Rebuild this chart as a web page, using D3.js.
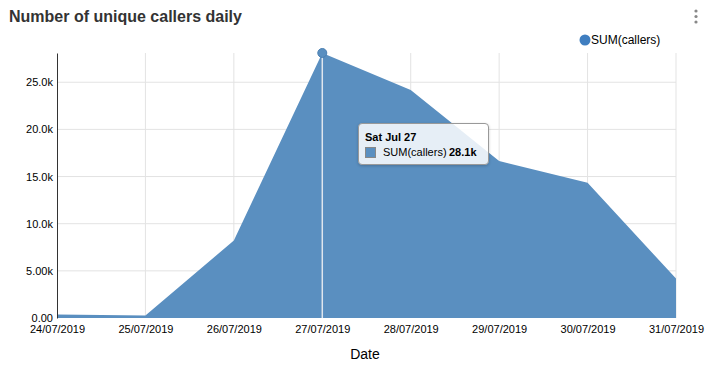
<!DOCTYPE html>
<html>
<head>
<meta charset="utf-8">
<script src="https://cdn.jsdelivr.net/npm/d3@7"></script>
<style>
body { margin: 0; background: #fff; font-family: "Liberation Sans", Arial, sans-serif; }
#chart { position: relative; width: 713px; height: 374px; overflow: hidden; }
svg text { font-family: "Liberation Sans", Arial, sans-serif; }
.tick text { font-size: 11px; fill: #000; }
.tip { position: absolute; left: 358px; top: 123px; width: 131px; height: 42px;
  background: rgba(255,255,255,0.85); border: 1px solid #999; border-radius: 4px;
  box-shadow: 0 1px 3px rgba(0,0,0,0.2);
  font-size: 11px; color: #000; box-sizing: border-box; }
.tip .d { position: absolute; left: 6px; top: 7px; font-weight: bold; }
.tip .sw { position: absolute; left: 6px; top: 23px; width: 11px; height: 11px; border: 1px solid #888; box-sizing: border-box; }
.tip .n { position: absolute; left: 24px; top: 22px; }
.tip .v { position: absolute; left: 90px; top: 22px; font-weight: bold; }
</style>
</head>
<body>
<div id="chart"></div>
<script>
// data
var dates = ["24/07/2019", "25/07/2019", "26/07/2019", "27/07/2019", "28/07/2019", "29/07/2019", "30/07/2019", "31/07/2019"];
var callers = [360, 255, 8220, 28100, 24180, 16640, 14340, 4180];
var yTicks = [0, 5000, 10000, 15000, 20000, 25000];
var hoverIndex = 3;

var width = 713, height = 374;
var margin = {top: 53, right: 37, bottom: 56, left: 57};
var color = "#5a8fc0";

var parse = d3.timeParse("%d/%m/%Y");
var data = dates.map(function(d, i) { return {date: parse(d), value: callers[i]}; });

var svg = d3.select("#chart").append("svg")
  .attr("width", width).attr("height", height);

var x = d3.scaleTime()
  .domain(d3.extent(data, function(d) { return d.date; }))
  .range([margin.left, width - margin.right]);
var y = d3.scaleLinear()
  .domain([0, d3.max(callers)])
  .range([height - margin.bottom, margin.top]);

// grid
svg.append("g")
  .selectAll("line.h").data(yTicks.slice(1)).enter().append("line")
  .attr("x1", margin.left).attr("x2", width - margin.right)
  .attr("y1", function(d) { return y(d); }).attr("y2", function(d) { return y(d); })
  .attr("stroke", "#e3e3e3");
svg.append("g")
  .selectAll("line.v").data(data.slice(1)).enter().append("line")
  .attr("x1", function(d) { return x(d.date); }).attr("x2", function(d) { return x(d.date); })
  .attr("y1", margin.top).attr("y2", height - margin.bottom)
  .attr("stroke", "#e3e3e3");

// area
var area = d3.area()
  .x(function(d) { return x(d.date); })
  .y0(y(0))
  .y1(function(d) { return y(d.value); });
svg.append("path").datum(data)
  .attr("d", area)
  .attr("fill", color);

// hover line + point
var hd = data[hoverIndex];
svg.append("line")
  .attr("x1", x(hd.date)).attr("x2", x(hd.date))
  .attr("y1", y(hd.value)).attr("y2", y(0))
  .attr("stroke", "#dfe6ee").attr("stroke-width", 1.5);
svg.append("circle")
  .attr("cx", x(hd.date)).attr("cy", y(hd.value)).attr("r", 4.5)
  .attr("fill", color).attr("stroke", "#4a7fb2");

// y axis
var fmt = function(d) { return d === 0 ? "0.00" : d3.format(".3s")(d); };
var yAxis = svg.append("g")
  .attr("transform", "translate(" + margin.left + ",0)")
  .call(d3.axisLeft(y).tickValues(yTicks).tickFormat(fmt).tickSize(0).tickPadding(4));
yAxis.attr("font-family", null);
yAxis.select(".domain").attr("stroke", "#333");

// x axis
var xAxis = svg.append("g")
  .attr("transform", "translate(0," + (height - margin.bottom) + ")")
  .call(d3.axisBottom(x).tickValues(data.map(function(d) { return d.date; }))
    .tickFormat(d3.timeFormat("%d/%m/%Y")).tickSize(0).tickPadding(7));
xAxis.attr("font-family", null);
xAxis.select(".domain").remove();

svg.append("text")
  .attr("x", 365).attr("y", 359)
  .attr("text-anchor", "middle")
  .attr("font-size", 14).attr("fill", "#000")
  .text("Date");

// title
svg.append("text")
  .attr("x", 9).attr("y", 22)
  .attr("font-size", 16).attr("font-weight", "bold").attr("fill", "#333")
  .text("Number of unique callers daily");

// menu dots
svg.append("g").selectAll("circle").data([0, 1, 2]).enter().append("circle")
  .attr("cx", 696).attr("cy", function(d) { return 11 + d * 5.5; }).attr("r", 1.6)
  .attr("fill", "#888");

// legend
svg.append("circle").attr("cx", 585).attr("cy", 40).attr("r", 5.5).attr("fill", "#3f7ec0");
svg.append("text").attr("x", 591).attr("y", 44)
  .attr("font-size", 12).attr("fill", "#000").text("SUM(callers)");

// tooltip
var tip = d3.select("#chart").append("div").attr("class", "tip");
tip.append("div").attr("class", "d").text(d3.timeFormat("%a %b %d")(hd.date));
tip.append("div").attr("class", "sw").style("background", color);
tip.append("div").attr("class", "n").text("SUM(callers)");
tip.append("div").attr("class", "v").text(d3.format(".3s")(hd.value));
</script>
</body>
</html>
